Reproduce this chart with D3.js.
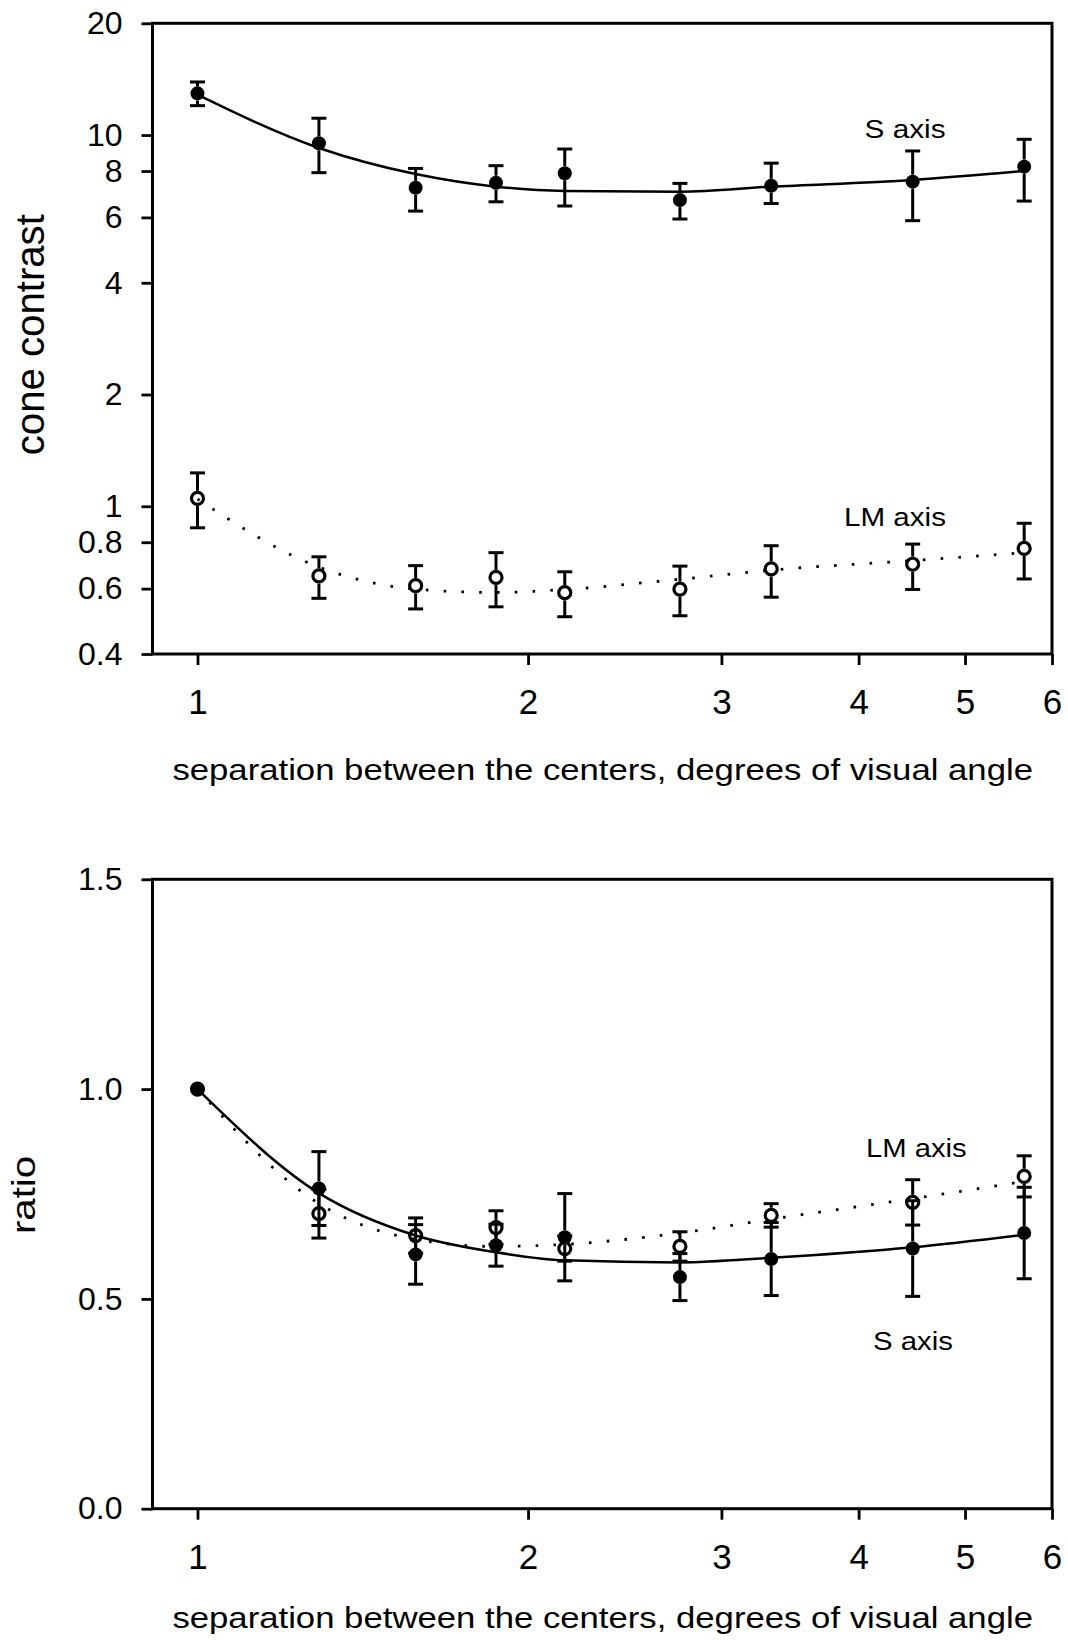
<!DOCTYPE html>
<html>
<head>
<meta charset="utf-8">
<script src="https://cdn.jsdelivr.net/npm/d3@7"></script>
<style>
  body { margin: 0; background: #fff; }
  svg { display: block; font-family: "Liberation Sans", Arial, sans-serif; }
</style>
</head>
<body>
<svg id="chart" width="1068" height="1640"></svg>
<script>
// Values
const separation = [1, 1.29, 1.58, 1.87, 2.16, 2.75, 3.33, 4.48, 5.66];
const xTicks = [1, 2, 3, 4, 5, 6];

// top panel: cone contrast thresholds
const sContrast    = [12.95, 9.50, 7.21, 7.44, 7.89, 6.68, 7.30, 7.49, 8.22];
const sContrastLo  = [12.0, 7.92, 6.24, 6.61, 6.44, 5.94, 6.54, 5.88, 6.64];
const sContrastHi  = [13.9, 11.1, 8.13, 8.27, 9.17, 7.41, 8.40, 9.06, 9.74];
const sContrastFit = [12.85, 9.23, 7.85, 7.26, 7.07, 7.04, 7.26, 7.57, 8.0];

const lmContrast    = [1.05, 0.649, 0.611, 0.643, 0.585, 0.598, 0.678, 0.698, 0.77];
const lmContrastLo  = [0.875, 0.565, 0.529, 0.536, 0.504, 0.507, 0.569, 0.597, 0.637];
const lmContrastHi  = [1.23, 0.731, 0.692, 0.75, 0.666, 0.69, 0.783, 0.791, 0.90];
const lmContrastFit = [1.046, 0.686, 0.598, 0.586, 0.597, 0.636, 0.673, 0.714, 0.750];

const contrastTicks = [0.4, 0.6, 0.8, 1, 2, 4, 6, 8, 10, 20];
const contrastTickLabels = ["0.4", "0.6", "0.8", "1", "2", "4", "6", "8", "10", "20"];

// bottom panel: ratio to the value at 1 deg
const sRatio    = [1.0, 0.763, 0.606, 0.628, 0.647, 0.552, 0.595, 0.620, 0.657];
const sRatioErr = [0, 0.088, 0.071, 0.05, 0.104, 0.056, 0.087, 0.114, 0.109];
const sRatioFit = [1.0, 0.752, 0.651, 0.611, 0.592, 0.587, 0.598, 0.623, 0.653];

const lmRatio    = [1.0, 0.703, 0.651, 0.670, 0.620, 0.625, 0.699, 0.730, 0.792];
const lmRatioErr = [0, 0.058, 0.042, 0.04, 0.03, 0.035, 0.028, 0.054, 0.049];
const lmRatioFit = [1.0, 0.727, 0.642, 0.625, 0.630, 0.657, 0.690, 0.739, 0.780];

const ratioTicks = [0, 0.5, 1, 1.5];
const ratioTickLabels = ["0.0", "0.5", "1.0", "1.5"];

const xTitle = "separation between the centers, degrees of visual angle";

// Layout
const svg = d3.select("#chart");
const left = 152.5, right = 1052;
const x = d3.scaleLog().domain([0.91, 6]).range([left, right]);
const yTop = d3.scaleLog().domain([0.4, 20]).range([654, 23.3]);
const yBot = d3.scaleLinear().domain([0, 1.5]).range([1508.7, 879.3]);

const R_FILLED = 7, R_OPEN = 6, CAP = 7.5;

function drawFrame(y, ticks, labels, xTitleY) {
    const g = svg.append("g");
    const [y0, y1] = y.range();

    g.append("rect")
     .attr("x", left).attr("y", y1)
     .attr("width", right - left).attr("height", y0 - y1)
     .attr("fill", "none").attr("stroke", "#000").attr("stroke-width", 3);

    const yAxis = d3.axisLeft(y).tickValues(ticks).tickFormat((d, i) => labels[i])
        .tickSize(11).tickPadding(19).tickSizeOuter(0);
    const ya = g.append("g").attr("transform", `translate(${left},0)`).call(yAxis);
    ya.select(".domain").remove();
    ya.selectAll("line").attr("stroke-width", 2.8);
    ya.selectAll("text").attr("font-size", 32).attr("fill", "#000");

    const xAxis = d3.axisBottom(x).tickValues(xTicks).tickFormat(d3.format("d"))
        .tickSize(11).tickPadding(24).tickSizeOuter(0);
    const xa = g.append("g").attr("transform", `translate(0,${y0})`).call(xAxis);
    xa.select(".domain").remove();
    xa.selectAll("line").attr("stroke-width", 2.8);
    xa.selectAll("text").attr("font-size", 35).attr("fill", "#000");

    g.append("text")
     .attr("x", 172.4).attr("y", xTitleY)
     .attr("font-size", 30)
     .attr("textLength", 860.6).attr("lengthAdjust", "spacingAndGlyphs")
     .text(xTitle);
}

function drawSeries(y, vals, lo, hi, fit, open) {
    const g = svg.append("g");
    const line = d3.line()
        .x((d, i) => x(separation[i]))
        .y(d => y(d))
        .curve(d3.curveMonotoneX);

    g.append("path").datum(fit)
     .attr("d", line)
     .attr("fill", "none").attr("stroke", "#000")
     .attr("stroke-width", open ? 2.8 : 2.5)
     .attr("stroke-dasharray", open ? "2.6,15.2" : null);

    const r = open ? R_OPEN + 1.6 : R_FILLED;
    const pts = vals.map((v, i) => ({ cx: x(separation[i]), cy: y(v), top: y(hi[i]), bot: y(lo[i]) }));

    pts.filter(p => p.cy - p.top > 1).forEach(p => {
        if (p.cy - r > p.top) {
            g.append("line").attr("x1", p.cx).attr("x2", p.cx).attr("y1", p.top).attr("y2", p.cy - r);
        }
        if (p.bot > p.cy + r) {
            g.append("line").attr("x1", p.cx).attr("x2", p.cx).attr("y1", p.cy + r).attr("y2", p.bot);
        }
        g.append("line").attr("x1", p.cx - CAP).attr("x2", p.cx + CAP).attr("y1", p.top).attr("y2", p.top);
        g.append("line").attr("x1", p.cx - CAP).attr("x2", p.cx + CAP).attr("y1", p.bot).attr("y2", p.bot);
    });
    g.selectAll("line").attr("stroke", "#000").attr("stroke-width", 3);

    g.selectAll("circle").data(pts).enter().append("circle")
     .attr("cx", d => d.cx).attr("cy", d => d.cy)
     .attr("r", open ? R_OPEN : R_FILLED)
     .attr("fill", open ? "none" : "#000")
     .attr("stroke", open ? "#000" : "none")
     .attr("stroke-width", open ? 3.2 : 0);
}

function label(text, x0, baseline, len) {
    svg.append("text")
       .attr("x", x0).attr("y", baseline)
       .attr("font-size", 26)
       .attr("textLength", len).attr("lengthAdjust", "spacingAndGlyphs")
       .text(text);
}

// top panel
drawFrame(yTop, contrastTicks, contrastTickLabels, 780);
drawSeries(yTop, lmContrast, lmContrastLo, lmContrastHi, lmContrastFit, true);
drawSeries(yTop, sContrast, sContrastLo, sContrastHi, sContrastFit, false);
label("S axis", 864.6, 138.3, 81);
label("LM axis", 844, 526, 102);
svg.append("text")
   .attr("transform", "translate(43.5,334.7) rotate(-90)")
   .attr("text-anchor", "middle").attr("font-size", 40)
   .attr("textLength", 241).attr("lengthAdjust", "spacingAndGlyphs")
   .text("cone contrast");

// bottom panel
const plusMinus = (v, e, s) => v.map((d, i) => d + s * e[i]);
drawFrame(yBot, ratioTicks, ratioTickLabels, 1628);
drawSeries(yBot, lmRatio, plusMinus(lmRatio, lmRatioErr, -1), plusMinus(lmRatio, lmRatioErr, 1), lmRatioFit, true);
drawSeries(yBot, sRatio, plusMinus(sRatio, sRatioErr, -1), plusMinus(sRatio, sRatioErr, 1), sRatioFit, false);
label("LM axis", 866, 1157.3, 100.7);
label("S axis", 873, 1350, 80);
svg.append("text")
   .attr("transform", "translate(35,1195) rotate(-90)")
   .attr("text-anchor", "middle").attr("font-size", 34)
   .attr("textLength", 78).attr("lengthAdjust", "spacingAndGlyphs")
   .text("ratio");
</script>
</body>
</html>
